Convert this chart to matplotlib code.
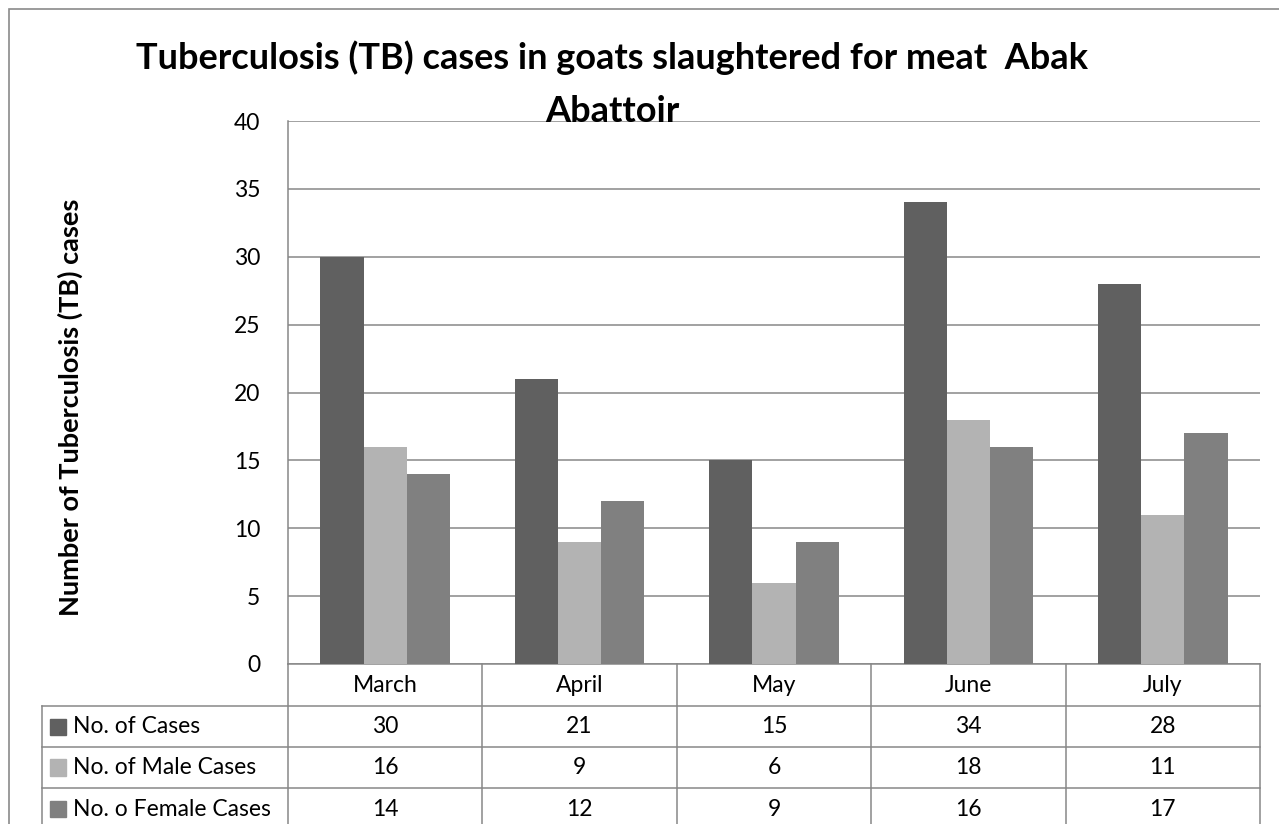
import numpy as np
import matplotlib
matplotlib.use("Agg")
import matplotlib.pyplot as plt
from matplotlib.patches import Rectangle
from matplotlib.transforms import blended_transform_factory

plt.rcParams['font.family'] = ['Lato', 'DejaVu Sans']

# Data
months = ['March', 'April', 'May', 'June', 'July']
series_names = ['No. of Cases', 'No. of Male Cases', 'No. o Female Cases']
total_cases = [30, 21, 15, 34, 28]
male_cases = [16, 9, 6, 18, 11]
female_cases = [14, 12, 9, 16, 17]
yticks = [0, 5, 10, 15, 20, 25, 30, 35, 40]

series = [total_cases, male_cases, female_cases]
colors = ['#606060', '#b3b3b3', '#808080']
grid_col = '#878787'
fs = 16.5

W, H = 1279, 824
fig = plt.figure(figsize=(W / 100, H / 100), dpi=100)


def fx(px):
    return px / W


def fy(py):
    return 1 - py / H


# chart area border
fig.patches.append(Rectangle((fx(9), fy(900)), fx(1400), fy(9) - fy(900),
                             transform=fig.transFigure, fill=False,
                             edgecolor='#8a8a8a', lw=1.2))

ax = fig.add_axes([fx(288), fy(664), fx(1260) - fx(288), fy(121) - fy(664)])
x = np.arange(len(months))
bw = 2 / 9
for i, (vals, col) in enumerate(zip(series, colors)):
    ax.bar(x + (i - 1) * bw, vals, bw, color=col, zorder=3)

ax.set_xlim(-0.5, len(months) - 0.5)
ax.set_ylim(0, 40)
ax.set_yticks(yticks)
ax.set_yticklabels([str(v) for v in yticks], fontsize=fs)
ax.tick_params(axis='y', length=0, pad=20)
ax.set_xticks([])
ax.yaxis.grid(True, color=grid_col, lw=1.1, zorder=0)
for s in ['top', 'right']:
    ax.spines[s].set_visible(False)
for s in ['left', 'bottom']:
    ax.spines[s].set_color(grid_col)
    ax.spines[s].set_linewidth(1.1)

ax.set_ylabel('Number of Tuberculosis (TB) cases', fontsize=19.5, fontweight='bold')
ax.yaxis.set_label_coords((83 - 288) / (1260 - 288), (664 - 407) / (664 - 121))

fig.text(fx(612), fy(58), 'Tuberculosis (TB) cases in goats slaughtered for meat  Abak',
         ha='center', va='center', fontsize=26, fontweight='bold')
fig.text(fx(612), fy(111), 'Abattoir', ha='center', va='center',
         fontsize=26, fontweight='bold', zorder=5)

# data table under the axis
tr = blended_transform_factory(ax.transData, fig.transFigure)
rows_y = [664, 706, 747, 788, 830]
tbl_kw = dict(color=grid_col, lw=1.1, transform=fig.transFigure, clip_on=False)
for yy in rows_y[1:4]:
    fig.add_artist(plt.Line2D([fx(42), fx(1260)], [fy(yy), fy(yy)], **tbl_kw))
fig.add_artist(plt.Line2D([fx(42), fx(42)], [fy(706), fy(830)], **tbl_kw))
for b in np.arange(len(months) + 1) - 0.5:
    ax.plot([b, b], [fy(664), fy(830)], color=grid_col, lw=1.1,
            transform=tr, clip_on=False)

for j, m in enumerate(months):
    ax.text(j, fy(685), m, transform=tr, ha='center', va='center', fontsize=fs)
    for i, vals in enumerate(series):
        yc = (rows_y[i + 1] + rows_y[i + 2]) / 2
        ax.text(j, fy(yc), str(vals[j]), transform=tr, ha='center',
                va='center', fontsize=fs)

for i, (name, col) in enumerate(zip(series_names, colors)):
    yc = (rows_y[i + 1] + rows_y[i + 2]) / 2
    fig.patches.append(Rectangle((fx(50), fy(yc + 8)), fx(16), fy(yc - 8) - fy(yc + 8),
                                 transform=fig.transFigure, color=col))
    fig.text(fx(73), fy(yc), name, ha='left', va='center', fontsize=fs)

fig.savefig('out.png', dpi=100)
